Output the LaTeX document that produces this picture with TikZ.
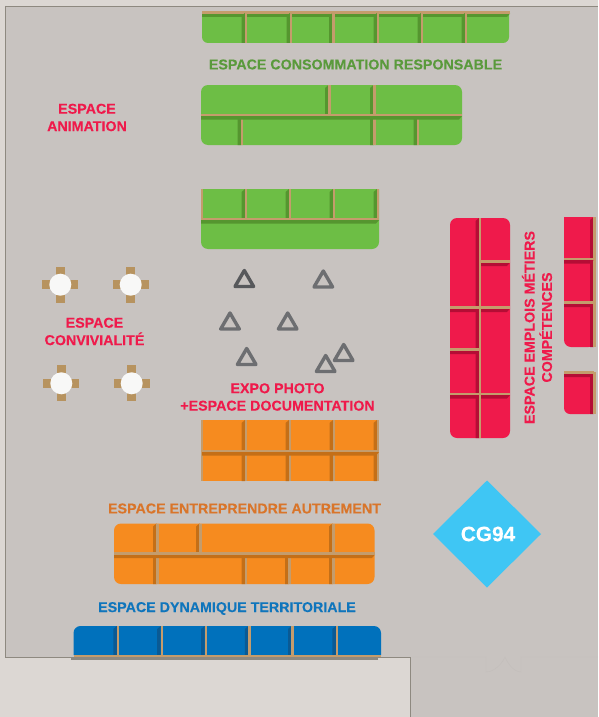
\documentclass[tikz,border=0pt]{standalone}
\usepackage{fontspec}
\setmainfont{Liberation Sans}[BoldFeatures={FakeBold=0.15}]
\definecolor{room}{HTML}{C8C3C0}
\definecolor{outside}{HTML}{DCD7D3}
\definecolor{wallline}{HTML}{8E8980}
\definecolor{tan}{HTML}{C49C6C}
\definecolor{chair}{HTML}{B7935F}
\definecolor{grn}{HTML}{6DBE45}
\definecolor{grnd}{HTML}{55962F}
\definecolor{grnt}{HTML}{5A9A3C}
\definecolor{rd}{HTML}{EF1A4B}
\definecolor{rdd}{HTML}{B50D35}
\definecolor{org}{HTML}{F68B1F}
\definecolor{orgd}{HTML}{C46F17}
\definecolor{orgt}{HTML}{D9752A}
\definecolor{blu}{HTML}{0071BC}
\definecolor{blud}{HTML}{0A5A94}
\definecolor{blut}{HTML}{0F75BC}
\definecolor{tri}{HTML}{6D6E71}
\definecolor{cg}{HTML}{3FC6F4}
\newcommand{\vwall}[4]{% colour, x, y1, y2
  \fill[#1] (#2-4.5,#3+3) -- (#2-1,#3) -- (#2-1,#4) -- (#2-4.5,#4) -- cycle;
  \fill[tan] (#2-1.1,#3) rectangle (#2+1.1,#4);}
\newcommand{\hwall}[4]{% colour, y, x1, x2
  \fill[#1] (#3,#2+1) -- (#4,#2+1) -- (#4-3,#2+4.5) -- (#3,#2+4.5) -- cycle;
  \fill[tan] (#3,#2-1.2) rectangle (#4,#2+1.2);}
\newcommand{\seat}[2]{%
  \fill[chair] (#1-4.5,#2-18) rectangle (#1+4.5,#2-9);
  \fill[chair] (#1-4.5,#2+18) rectangle (#1+4.5,#2+9);
  \fill[chair] (#1-18,#2-4.5) rectangle (#1-9,#2+4.5);
  \fill[chair] (#1+18,#2-4.5) rectangle (#1+9,#2+4.5);
  \fill[white!88!room] (#1,#2) circle[radius=11];}
\newcommand{\cone}[3][tri]{%
  \draw[#1,line width=3.4,line join=round] (#2,#3-8) -- (#2+9.3,#3+8) -- (#2-9.3,#3+8) -- cycle;}
\tikzset{lbl/.style={font=\bfseries\fontsize{14.25}{17.4}\selectfont,align=center,inner sep=0}}
\begin{document}
\begin{tikzpicture}[x=1pt,y=-1pt]
\useasboundingbox (0,0) rectangle (598,717);
\fill[outside] (0,0) rectangle (598,717);
\fill[room] (5.5,6) rectangle (598,657);
\fill[room] (410,657) rectangle (598,717);
\draw[wallline,line width=0.8] (5.5,6) -- (598,6);
\draw[wallline,line width=0.8] (5.5,6) -- (5.5,657) -- (410,657) -- (410,717);
% faint door
\draw[room!97!black,line width=0.4] (412,657) -- (486,657) -- (486,672) .. controls (494,672) and (502,664) .. (505,657) .. controls (508,664) and (514,672) .. (521,672) -- (521,657) -- (598,657);
% top green
\fill[grn] (202,12) -- (509,12) [rounded corners=6] -- (509,43) -- (202,43) [sharp corners] -- cycle;
\hwall{grnd}{12.5}{202}{510}
\foreach \x in {246,291,333.5,378,422,466} {\vwall{grnd}{\x}{13}{43}}
\node[lbl,text=grnt] (consotxt) at (355.5,64.5) {ESPACE CONSOMMATION RESPONSABLE};
% middle green
\fill[grn,rounded corners=7] (201,85) rectangle (462,145);
\vwall{grnd}{329.5}{85}{114}
\vwall{grnd}{374.5}{85}{145}
\vwall{grnd}{242}{116}{145}
\vwall{grnd}{418}{116}{145}
\hwall{grnd}{115}{201}{462}
% third green
\fill[grn] (201,189) -- (379,189) [rounded corners=7] -- (379,249) -- (201,249) [sharp corners] -- cycle;
\foreach \x in {246,290,334,378} {\vwall{grnd}{\x}{189}{218}}
\fill[tan] (201,189) rectangle (203,219);
\hwall{grnd}{219}{201}{379}
\node[lbl,text=rd] (animtxt) at (87,117.5) {ESPACE\\ANIMATION};
% tables
\seat{60.3}{284.7}
\seat{130.7}{284.7}
\seat{61.3}{383.3}
\seat{131.7}{383.3}
\node[lbl,text=rd] (convtxt) at (94.5,331.5) {ESPACE\\CONVIVIALITÉ};
% cones
\cone[tri!80!black]{244.3}{278.5}
\cone{323.3}{279}
\cone{230}{321}
\cone{287.7}{321}
\cone{246.7}{356.5}
\cone{325.7}{363.5}
\cone{343.7}{352.5}
\node[lbl,text=rd] (expotxt) at (277.5,397) {EXPO PHOTO\\+ESPACE DOCUMENTATION};
% orange 1
\fill[org] (201,420) rectangle (379,481);
\foreach \x in {246,290,334,378} {\vwall{orgd}{\x}{420}{481}}
\fill[tan] (201,420) rectangle (203,481);
\hwall{orgd}{451}{202}{379}
\node[lbl,text=orgt] (entrtxt) at (244.5,508.5) {ESPACE ENTREPRENDRE AUTREMENT};
% orange 2
\fill[org,rounded corners=7] (114,523.5) rectangle (374.5,584);
\vwall{orgd}{157.5}{523.5}{584}
\vwall{orgd}{200.5}{523.5}{552}
\vwall{orgd}{333.5}{523.5}{584}
\vwall{orgd}{246}{554}{584}
\vwall{orgd}{289.5}{554}{584}
\hwall{orgd}{553.5}{114}{375}
\node[lbl,text=blut] (dyntxt) at (227,608.5) {ESPACE DYNAMIQUE TERRITORIALE};
% blue
\fill[blu] (73.5,655) [rounded corners=7] -- (73.5,626) -- (381,626) [sharp corners] -- (381,655) -- cycle;
\foreach \x in {117.8,161.7,205.6,249.4,292.5,336.8} {\vwall{blud}{\x}{626}{655}}
\fill[wallline] (71,657) rectangle (378,660);
\fill[tan] (73.5,655) rectangle (381,657.4);
% red big
\fill[rd,rounded corners=7] (450,218) rectangle (510,438);
\vwall{rdd}{480}{218}{438}
\hwall{rdd}{261.5}{481}{510}
\hwall{rdd}{307.5}{450}{479}
\hwall{rdd}{307.5}{481}{510}
\hwall{rdd}{349.5}{450}{479}
\hwall{rdd}{394}{450}{479}
\hwall{rdd}{394}{481}{510}
\fill[tan] (478.9,218) rectangle (481.1,438);
% red right
\fill[rd] (595.5,217) -- (564,217) [rounded corners=7] -- (564,347) -- (595.5,347) [sharp corners] -- cycle;
\vwall{rdd}{594.5}{217}{347}
\hwall{rdd}{259}{564}{593.5}
\hwall{rdd}{302.5}{564}{593.5}
\fill[rd] (595.5,372) -- (564,372) [rounded corners=6] -- (564,414) -- (595.5,414) [sharp corners] -- cycle;
\vwall{rdd}{594.5}{372}{414}
\hwall{rdd}{372.5}{564}{593.5}
\node[lbl,text=rd,rotate=90] (emptxt) at (537,327.5) {ESPACE EMPLOIS MÉTIERS\\COMPÉTENCES};
% CG94
\fill[cg] (487,480.5) -- (541,534) -- (487,587.5) -- (433,534) -- cycle;
\node[text=white,inner sep=0,font=\bfseries\fontsize{20.8}{20}\selectfont] (cg) at (488,534) {CG94};
\end{tikzpicture}
\end{document}
